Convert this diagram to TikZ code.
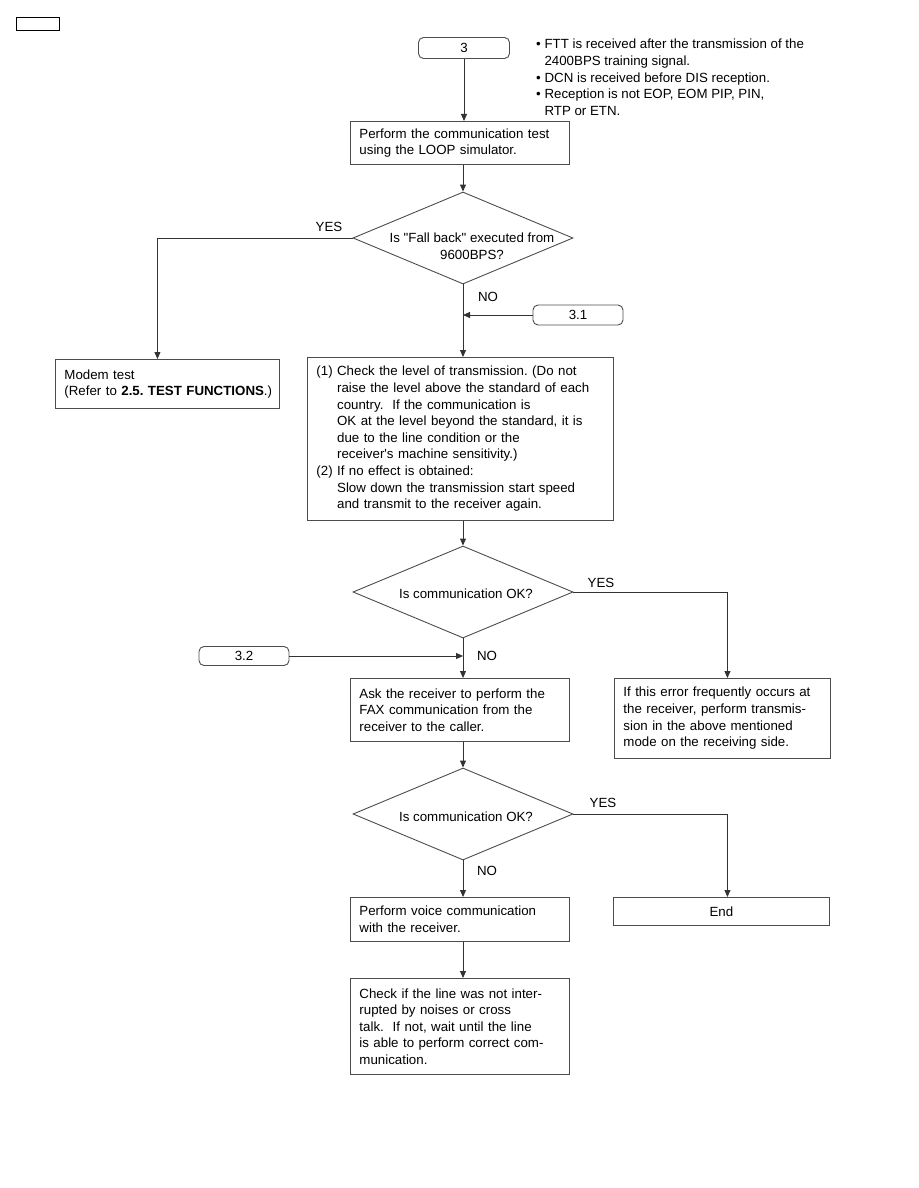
\documentclass[tikz,border=0pt]{standalone}
\usepackage{fontspec}
\setmainfont{Liberation Sans}
\usetikzlibrary{arrows.meta, positioning, shapes.geometric}
\newcommand{\chartfont}{\fontsize{13.3}{16.6}\selectfont\frenchspacing}

\begin{document}
\begin{tikzpicture}[x=1pt, y=-1pt,
  box/.style={draw=black!70, line width=0.9pt, align=left, anchor=north west, inner xsep=9pt, inner ysep=0pt, font=\chartfont},
  term/.style={draw=black!70, line width=0.9pt, rounded corners=5pt, inner sep=0pt, font=\chartfont},
  decision/.style={draw=black!70, line width=0.9pt, diamond, inner sep=0pt, minimum width=220pt, minimum height=92pt},
  answer/.style={font=\chartfont, inner sep=0pt},
  arrow/.style={draw=black!80, line width=0.9pt, -{Triangle[length=7pt, width=6pt]}}]
  \useasboundingbox (0,0) rectangle (918,1188);

  % page tab
  \node[draw, line width=1.3pt, minimum width=43pt, minimum height=13pt, inner sep=0pt, anchor=north west] (tab) at (16,17) {};

  % start and notes
  \node[term, minimum width=91pt, minimum height=21pt] (t3) at (464,48) {3};
  \node[answer, align=left, anchor=north west] (notes) at (536,39) {%
    \textbullet\ FTT is received after the transmission of the\\
    \hphantom{\textbullet\ }2400BPS training signal.\\
    \textbullet\ DCN is received before DIS reception.\\
    \textbullet\ Reception is not EOP, EOM PIP, PIN,\\
    \hphantom{\textbullet\ }RTP or ETN.};

  % first test
  \node[box, text width=201pt, minimum height=43pt] (loop) at (350,121) {Perform the communication test\\using the LOOP simulator.};
  \node[decision] (q1) at (463,238) {};
  \node[answer, align=center] (q1text) at (472,246) {Is \textquotedbl Fall back\textquotedbl\ executed from\\9600BPS?};
  \node[answer] (yes1) at (329,227) {YES};
  \node[answer] (no1) at (488,297) {NO};
  \node[box, text width=206pt, minimum height=49pt] (modem) at (55,359) {Modem test\\\mbox{(Refer to \textbf{2.5. TEST FUNCTIONS}.)}};
  \node[term, minimum width=90pt, minimum height=20pt] (t31) at (578,315) {3.1};

  % level check
  \node[box, text width=288pt, minimum height=163pt] (check) at (307,357) {%
    (1) Check the level of transmission. (Do not\\
    \hphantom{(1) }raise the level above the standard of each\\
    \hphantom{(1) }country.\ \ If the communication is\\
    \hphantom{(1) }OK at the level beyond the standard, it is\\
    \hphantom{(1) }due to the line condition or the\\
    \hphantom{(1) }receiver\textquotesingle s machine sensitivity.)\\
    (2) If no effect is obtained:\\
    \hphantom{(1) }Slow down the transmission start speed\\
    \hphantom{(1) }and transmit to the receiver again.};

  % second test
  \node[decision] (q2) at (463,592) {};
  \node[answer] (q2text) at (466,594) {Is communication OK?};
  \node[answer] (yes2) at (601,583) {YES};
  \node[answer] (no2) at (487,656) {NO};
  \node[box, text width=198pt, minimum height=80pt] (err) at (614,678) {If this error frequently occurs at\\the receiver, perform transmis-\\sion in the above mentioned\\mode on the receiving side.};
  \node[term, minimum width=90pt, minimum height=19pt] (t32) at (244,656) {3.2};
  \node[box, text width=201pt, minimum height=63pt] (ask) at (350,678) {Ask the receiver to perform the\\FAX communication from the\\receiver to the caller.};

  % third test
  \node[decision] (q3) at (463,814) {};
  \node[answer] (q3text) at (466,817) {Is communication OK?};
  \node[answer] (yes3) at (603,803) {YES};
  \node[answer] (no3) at (487,871) {NO};
  \node[box, align=center, text width=198pt, minimum height=28pt] (fin) at (613,897) {End};
  \node[box, text width=201pt, minimum height=44pt] (voice) at (350,897) {Perform voice communication\\with the receiver.};
  \node[box, text width=201pt, minimum height=96pt] (noise) at (350,978) {Check if the line was not inter-\\rupted by noises or cross\\talk.\ \ If not, wait until the line\\is able to perform correct com-\\munication.};

  % connectors
  \draw[arrow] (t3.south) -- (t3.south |- loop.north);
  \draw[arrow] (q1.north |- loop.south) -- (q1.north);
  \draw[arrow] (q1.west) -| ([xshift=-10pt]modem.north);
  \draw[arrow] (q1.south) -- (q1.south |- check.north);
  \draw[arrow] (t31.west) -- (q1.south |- t31.west);
  \draw[arrow] (q2.north |- check.south) -- (q2.north);
  \draw[arrow] (q2.east) -| ([xshift=5pt]err.north);
  \draw[arrow] (q2.south) -- (q2.south |- ask.north);
  \draw[arrow] (t32.east) -- (q2.south |- t32.east);
  \draw[arrow] (q3.north |- ask.south) -- (q3.north);
  \draw[arrow] (q3.east) -| ([xshift=6pt]fin.north);
  \draw[arrow] (q3.south) -- (q3.south |- voice.north);
  \draw[arrow] (q3.south |- voice.south) -- (q3.south |- noise.north);
\end{tikzpicture}
\end{document}
